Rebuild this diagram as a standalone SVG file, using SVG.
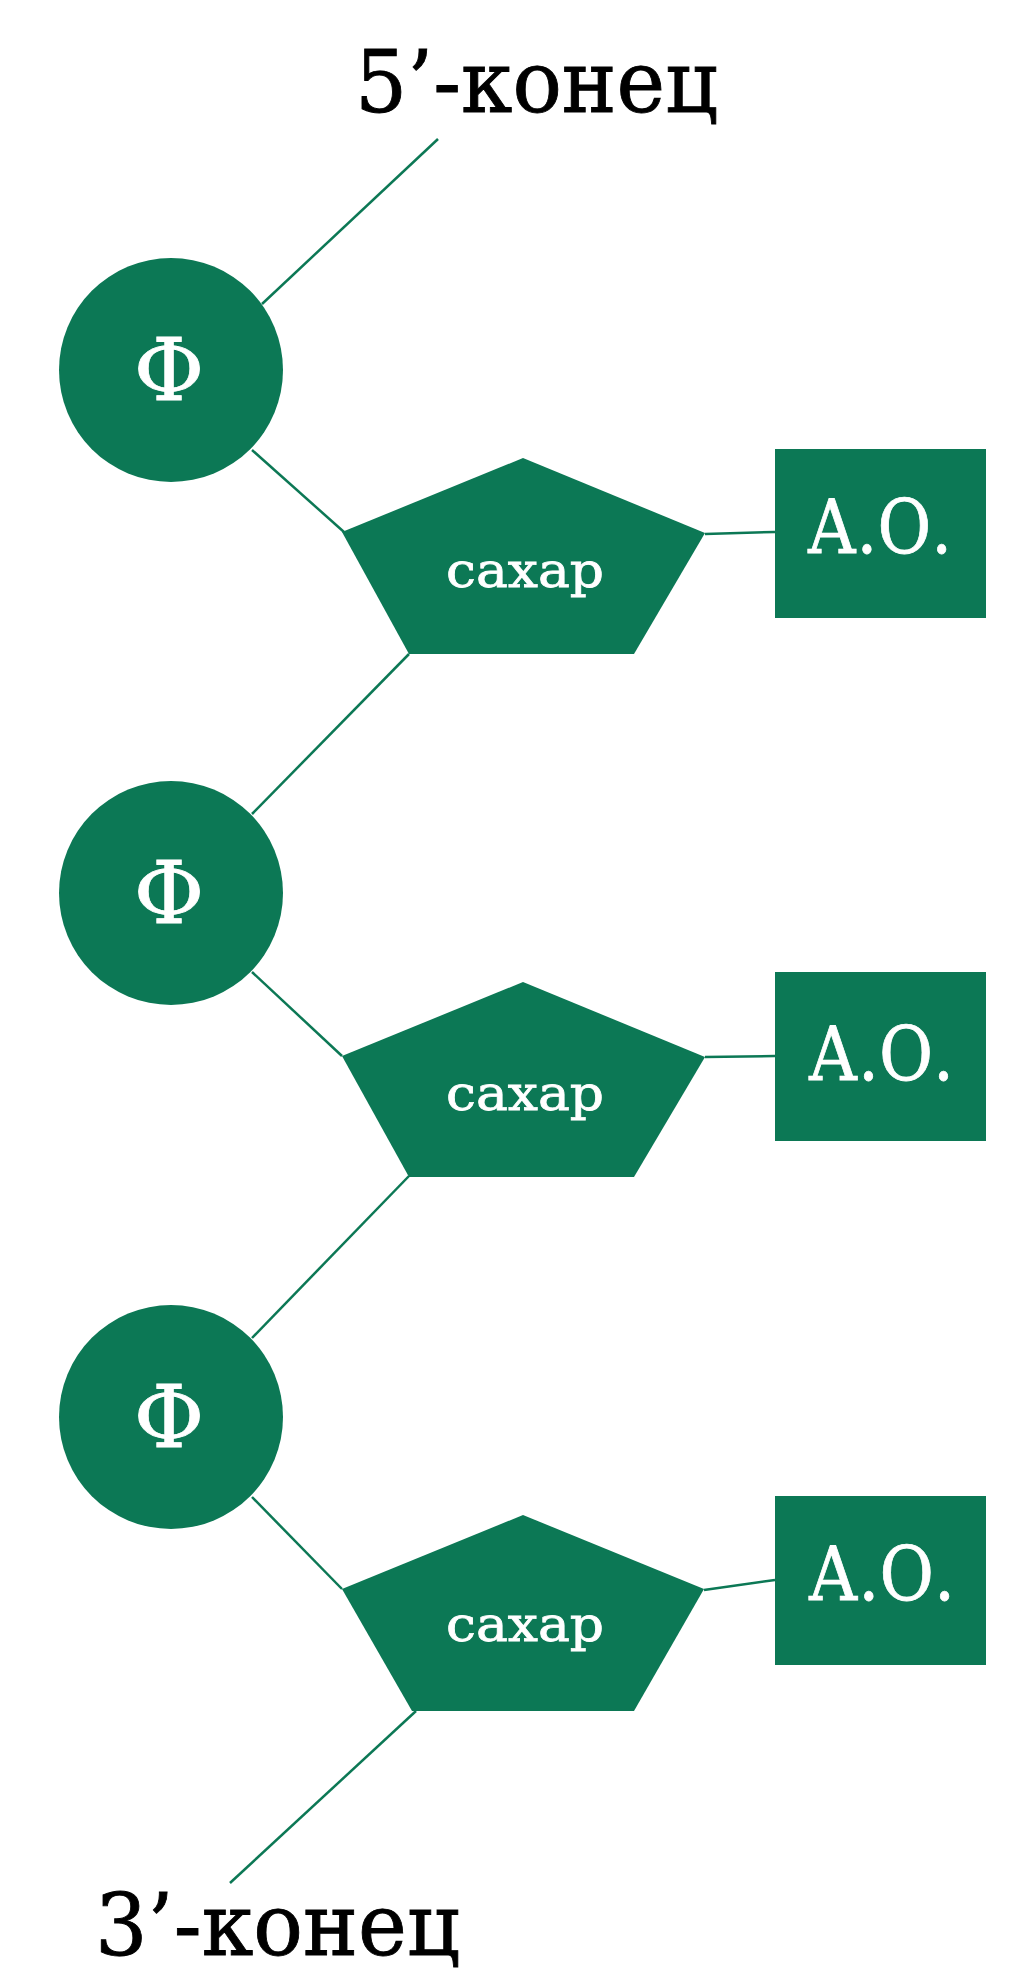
<svg xmlns="http://www.w3.org/2000/svg" width="1026" height="1987" viewBox="0 0 1026 1987">
<style>
.fill{fill:#0c7855}
.link{stroke:#0c7855;stroke-width:2.5;fill:none}
.lbl{font-family:"DejaVu Serif","Liberation Serif",serif;fill:#fff;stroke:#fff;stroke-width:0.8}
.end{font-family:"DejaVu Serif","Liberation Serif",serif;fill:#000;stroke:#000;stroke-width:0.9;font-size:86px}
.ao{font-size:74px}
.sug{font-size:49px}
.phi{font-size:86px}
</style>
<rect width="1026" height="1987" fill="#fff"/>
<g id="connectors">
<line class="link" x1="438" y1="139" x2="262" y2="304"/>
<line class="link" x1="252" y1="450" x2="344" y2="532"/>
<line class="link" x1="705" y1="534" x2="775" y2="532"/>
<line class="link" x1="409" y1="654" x2="252" y2="814"/>
<line class="link" x1="252" y1="972" x2="342" y2="1056"/>
<line class="link" x1="705" y1="1057" x2="775" y2="1056"/>
<line class="link" x1="409" y1="1176" x2="252" y2="1338"/>
<line class="link" x1="252" y1="1497" x2="342" y2="1589"/>
<line class="link" x1="704" y1="1590" x2="775" y2="1580"/>
<line class="link" x1="416" y1="1711" x2="230" y2="1883"/>
</g>
<g id="end5">
<text class="end" x="355" y="112" textLength="363" lengthAdjust="spacingAndGlyphs">5’-конец</text>
</g>
<g id="phos1">
<circle class="fill" cx="171" cy="370" r="112"/>
<text class="lbl phi" x="169" y="400" text-anchor="middle">Φ</text>
</g>
<g id="sugar1">
<polygon class="fill" points="523,458 705,533 634,654 409,654 342,532"/>
<text class="lbl sug" x="525" y="587" text-anchor="middle" textLength="158" lengthAdjust="spacingAndGlyphs">сахар</text>
</g>
<g id="base1">
<rect class="fill" x="775" y="449" width="211" height="169"/>
<text class="lbl ao" x="807" y="553" textLength="145" lengthAdjust="spacingAndGlyphs">А.О.</text>
</g>
<g id="phos2">
<circle class="fill" cx="171" cy="893" r="112"/>
<text class="lbl phi" x="169" y="923" text-anchor="middle">Φ</text>
</g>
<g id="sugar2">
<polygon class="fill" points="523,982 705,1057 634,1177 409,1177 342,1056"/>
<text class="lbl sug" x="525" y="1110" text-anchor="middle" textLength="158" lengthAdjust="spacingAndGlyphs">сахар</text>
</g>
<g id="base2">
<rect class="fill" x="775" y="972" width="211" height="169"/>
<text class="lbl ao" x="808" y="1080" textLength="146" lengthAdjust="spacingAndGlyphs">А.О.</text>
</g>
<g id="phos3">
<circle class="fill" cx="171" cy="1417" r="112"/>
<text class="lbl phi" x="169" y="1447" text-anchor="middle">Φ</text>
</g>
<g id="sugar3">
<polygon class="fill" points="523,1515 704,1589 634,1711 412,1711 342,1589"/>
<text class="lbl sug" x="525" y="1641" text-anchor="middle" textLength="158" lengthAdjust="spacingAndGlyphs">сахар</text>
</g>
<g id="base3">
<rect class="fill" x="775" y="1496" width="211" height="169"/>
<text class="lbl ao" x="808" y="1600" textLength="147" lengthAdjust="spacingAndGlyphs">А.О.</text>
</g>
<g id="end3">
<text class="end" x="95" y="1955" textLength="365" lengthAdjust="spacingAndGlyphs">3’-конец</text>
</g>
</svg>
